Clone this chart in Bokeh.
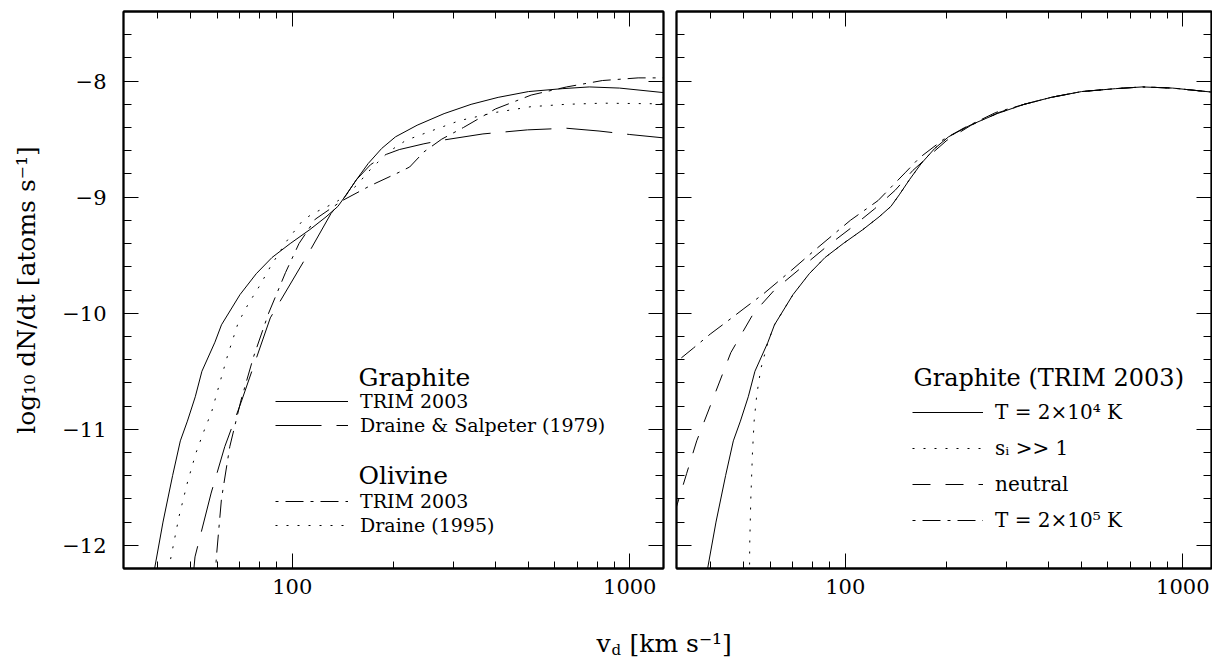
from bokeh.plotting import figure
from bokeh.models import (Range1d, FixedTicker, LogAxis, LinearAxis, CustomJSTickFormatter,
                          Legend, LegendItem, Label)
from bokeh.core.properties import value
from bokeh.layouts import column, row
from bokeh.embed import file_html
from bokeh.resources import INLINE

# ---------------- data (v_d in km/s, log10 dN/dt) ----------------
# Graphite, TRIM 2003 (left panel solid; right panel T = 2x10^4 K)
v_gr_trim = [37.5, 39.1, 41.4, 44.2, 46.6, 48.9, 51.6, 54.0, 59.0, 61.7, 70.0, 78.2, 87.1, 98.6,
             112.7, 125.9, 136.5, 144.5, 154.9, 167.9, 184.1, 202.3, 234.4, 281.8, 338.8, 407.4,
             501.2, 631.0, 758.6, 933.3, 1270]
lg_gr_trim = [-12.45, -12.2, -11.8, -11.4, -11.1, -10.93, -10.72, -10.50, -10.25, -10.10, -9.84,
              -9.66, -9.52, -9.40, -9.28, -9.17, -9.08, -8.98, -8.85, -8.71, -8.58, -8.48, -8.38,
              -8.28, -8.20, -8.14, -8.09, -8.065, -8.05, -8.06, -8.10]

# Graphite, Draine & Salpeter (1979)
v_gr_ds79 = [50.4, 51.5, 57.5, 63.1, 70.5, 86.1, 111.4, 130.3, 142.9, 154.9, 170.6, 190.5, 207.5,
             245.5, 277.3, 367.3, 497.7, 650.1, 810.9, 1000, 1270]
lg_gr_ds79 = [-12.4, -12.1, -11.55, -11.15, -10.77, -10.04, -9.49, -9.14, -9.0, -8.85, -8.72,
              -8.63, -8.59, -8.54, -8.51, -8.455, -8.42, -8.406, -8.43, -8.46, -8.49]

# Olivine, TRIM 2003
v_ol_trim = [58.6, 59.6, 61.7, 65.3, 70.5, 76.7, 85.1, 95.5, 104.7, 117.0, 140.6, 170.6, 207.5,
             222.8, 245.5, 277.3, 321.4, 399.9, 510.5, 650.1, 829.8, 1059, 1270]
lg_ol_trim = [-12.45, -12.1, -11.6, -11.15, -10.75, -10.38, -10.0, -9.65, -9.40, -9.19, -9.03,
              -8.90, -8.785, -8.74, -8.61, -8.50, -8.40, -8.24, -8.12, -8.05, -7.995, -7.972, -7.972]

# Olivine, Draine (1995)
v_ol_d95 = [42.2, 43.6, 46.2, 49.0, 51.9, 55.0, 57.7, 61.0, 64.4, 69.2, 74.1, 80.2, 86.1, 96.2,
            107.4, 115.3, 127.1, 136.8, 144.5, 154.9, 170.6, 192.8, 217.3, 257.6, 313.3, 399.9,
            510.5, 645.7, 831.8, 1270]
lg_ol_d95 = [-12.4, -12.12, -11.75, -11.45, -11.20, -11.00, -10.85, -10.60, -10.36, -10.08, -9.92,
             -9.76, -9.60, -9.38, -9.20, -9.14, -9.08, -9.03, -8.98, -8.90, -8.76, -8.61, -8.51,
             -8.43, -8.34, -8.27, -8.22, -8.20, -8.19, -8.196]

# Graphite (TRIM 2003), s_i >> 1
v_si = [52.0, 52.1, 52.5, 53.1, 53.7, 54.7, 56.2, 59.0, 61.7, 70.0, 78.2, 87.1, 98.6, 112.7,
        125.9, 136.5, 144.5, 154.9, 167.9, 184.1, 202.3, 234.4, 281.8, 338.8, 407.4, 501.2,
        631.0, 758.6, 933.3, 1270]
lg_si = [-12.45, -12.0, -11.6, -11.2, -10.93, -10.70, -10.48, -10.25, -10.10, -9.84, -9.66,
         -9.52, -9.40, -9.28, -9.17, -9.08, -8.98, -8.85, -8.71, -8.58, -8.48, -8.38, -8.28,
         -8.20, -8.14, -8.09, -8.065, -8.05, -8.06, -8.10]

# Graphite (TRIM 2003), neutral
v_neutral = [31.0, 33.9, 36.3, 39.8, 45.8, 53.5, 61.7, 74.6, 87.7, 103.5, 122.2, 140.6, 158.5,
             177.8, 200.0, 236.0, 285.1, 338.8, 407.4, 501.2, 631.0, 758.6, 933.3, 1270]
lg_neutral = [-11.75, -11.38, -11.10, -10.80, -10.34, -10.0, -9.8, -9.60, -9.43, -9.27, -9.10,
              -8.94, -8.77, -8.64, -8.51, -8.38, -8.27, -8.20, -8.14, -8.09, -8.065, -8.05,
              -8.06, -8.10]

# Graphite (TRIM 2003), T = 2x10^5 K
v_t2e5 = [31.0, 35.5, 39.8, 44.7, 50.1, 57.4, 69.3, 81.7, 103.5, 125.0, 151.0, 166.0, 195.9,
          225.9, 279.3, 338.8, 407.4, 501.2, 631.0, 758.6, 933.3, 1270]
lg_t2e5 = [-10.44, -10.30, -10.18, -10.07, -9.96, -9.83, -9.63, -9.45, -9.20, -9.03, -8.785,
           -8.66, -8.50, -8.40, -8.27, -8.20, -8.14, -8.09, -8.065, -8.05, -8.06, -8.10]

x_major = [100, 1000]
x_minor = [40, 50, 60, 70, 80, 90, 200, 300, 400, 500, 600, 700, 800, 900]
y_major = [-12, -11, -10, -9, -8]
y_minor = [-11.8, -11.6, -11.4, -11.2, -10.8, -10.6, -10.4, -10.2, -9.8, -9.6, -9.4, -9.2,
           -8.8, -8.6, -8.4, -8.2, -7.8, -7.6]

# ---------------- styling ----------------
FONT = "DejaVu Serif"
XMIN = 10 ** 1.5
YMIN, YMAX = -12.2, -7.4
DS79_DASH = "46 15"
NEUTRAL_DASH = "18 15"
DASHDOT = "3 7 18 7"
DOT = "2 9"

NUM_FMT = CustomJSTickFormatter(code="return tick.toFixed(0);")
Y_FMT = CustomJSTickFormatter(code="return (tick < 0 ? '\\u2212' : '') + Math.abs(tick).toFixed(0);")


def blank_fmt():
    return CustomJSTickFormatter(code="return '';")


def style_axis(ax, labelled, minor_len):
    ax.major_tick_in = 15
    ax.major_tick_out = 0
    ax.minor_tick_in = minor_len
    ax.minor_tick_out = 0
    ax.axis_line_width = 1.8
    ax.axis_line_color = "black"
    ax.major_tick_line_color = "black"
    ax.minor_tick_line_color = "black"
    ax.major_tick_line_width = 1
    ax.minor_tick_line_width = 1
    ax.major_label_text_font = FONT
    ax.major_label_text_font_size = "21px"
    ax.major_label_text_color = "black"
    if not labelled:
        ax.major_label_standoff = 0


def make_panel(width, xmax, bl, br, ylabels):
    p = figure(width=width, height=608, x_axis_type="log",
               x_range=Range1d(XMIN, xmax), y_range=Range1d(YMIN, YMAX),
               output_backend="svg", toolbar_location=None,
               x_axis_location=None, y_axis_location=None,
               min_border_left=bl, min_border_right=br, min_border_top=11, min_border_bottom=40)
    p.xgrid.visible = False
    p.ygrid.visible = False
    p.outline_line_color = "black"
    p.outline_line_width = 1.8
    p.background_fill_color = "white"
    p.border_fill_color = "white"

    xt = FixedTicker(ticks=x_major, minor_ticks=x_minor)
    yt = FixedTicker(ticks=y_major, minor_ticks=y_minor)

    xb = LogAxis(ticker=xt, formatter=NUM_FMT)
    style_axis(xb, True, 7)
    xb.major_label_standoff = 10
    p.add_layout(xb, "below")

    xa = LogAxis(ticker=xt, formatter=blank_fmt())
    style_axis(xa, False, 7)
    p.add_layout(xa, "above")

    yl = LinearAxis(ticker=yt, formatter=Y_FMT if ylabels else blank_fmt())
    style_axis(yl, ylabels, 8)
    if ylabels:
        yl.major_label_standoff = 17
        yl.axis_label = "log\u2081\u2080 dN/dt [atoms s\u207b\u00b9]"
        yl.axis_label_text_font = FONT
        yl.axis_label_text_font_size = "25px"
        yl.axis_label_text_font_style = "normal"
        yl.axis_label_text_color = "black"
        yl.axis_label_standoff = 18
    p.add_layout(yl, "left")

    yr = LinearAxis(ticker=yt, formatter=blank_fmt())
    style_axis(yr, False, 8)
    p.add_layout(yr, "right")
    return p


def legend(items, loc, gw, rowh, size):
    return Legend(items=items, location=loc, orientation="vertical",
                  glyph_width=gw, glyph_height=rowh, label_height=rowh, spacing=0,
                  padding=0, margin=0, label_standoff=12,
                  border_line_alpha=0, background_fill_alpha=0,
                  label_text_font=FONT, label_text_font_size=size,
                  label_text_color="black")


def title_label(text, x, y, size):
    return Label(x=x, y=y, x_units="screen", y_units="screen", text=text,
                 text_font=FONT, text_font_size=size, text_color="black",
                 text_align="left", text_baseline="alphabetic")


# ---------------- left panel ----------------
p1 = make_panel(669, 10 ** 3.1, 123, 6, True)
r_gt = p1.line(v_gr_trim, lg_gr_trim, line_color="black", line_width=1)
r_ds = p1.line(v_gr_ds79, lg_gr_ds79, line_color="black", line_width=1, line_dash=DS79_DASH)
r_ot = p1.line(v_ol_trim, lg_ol_trim, line_color="black", line_width=1, line_dash=DASHDOT)
r_od = p1.line(v_ol_d95, lg_ol_d95, line_color="black", line_width=1, line_dash=DOT)

p1.add_layout(legend([LegendItem(label=value("TRIM 2003"), renderers=[r_gt]),
                      LegendItem(label=value("Draine & Salpeter (1979)"), renderers=[r_ds])],
                     (152, 131), 73, 24, "19px"))
p1.add_layout(legend([LegendItem(label=value("TRIM 2003"), renderers=[r_ot]),
                      LegendItem(label=value("Draine (1995)"), renderers=[r_od])],
                     (152, 31), 73, 24, "19px"))
p1.add_layout(title_label("Graphite", 235, 191, "25px"))
p1.add_layout(title_label("Olivine", 235, 93, "25px"))

# ---------------- right panel ----------------
p2 = make_panel(543, 10 ** 3.085, 7, 1, False)
q_t4 = p2.line(v_gr_trim, lg_gr_trim, line_color="black", line_width=1)
q_si = p2.line(v_si, lg_si, line_color="black", line_width=1, line_dash=DOT)
q_ne = p2.line(v_neutral, lg_neutral, line_color="black", line_width=1, line_dash=NEUTRAL_DASH)
q_t5 = p2.line(v_t2e5, lg_t2e5, line_color="black", line_width=1, line_dash=DASHDOT)

p2.add_layout(legend([LegendItem(label=value("T = 2\u00d710\u2074 K"), renderers=[q_t4]),
                      LegendItem(label=value("s\u1d62 >> 1"), renderers=[q_si]),
                      LegendItem(label=value("neutral"), renderers=[q_ne]),
                      LegendItem(label=value("T = 2\u00d710\u2075 K"), renderers=[q_t5])],
                     (236, 30), 71, 36, "20px"))
p2.add_layout(title_label("Graphite (TRIM 2003)", 237, 191, "24px"))

# ---------------- shared x-axis title ----------------
p3 = figure(width=1212, height=50, x_range=Range1d(0, 1), y_range=Range1d(0, 1),
            output_backend="svg", toolbar_location=None,
            x_axis_location=None, y_axis_location=None, min_border=0)
p3.xgrid.visible = False
p3.ygrid.visible = False
p3.outline_line_color = None
p3.add_layout(Label(x=596, y=15, x_units="screen", y_units="screen", text="v",
                    text_font=FONT, text_font_size="25px", text_color="black",
                    text_baseline="alphabetic"))
p3.add_layout(Label(x=611, y=9, x_units="screen", y_units="screen", text="d",
                    text_font=FONT, text_font_size="15px", text_color="black",
                    text_baseline="alphabetic"))
p3.add_layout(Label(x=629, y=15, x_units="screen", y_units="screen", text="[km s\u207b\u00b9]",
                    text_font=FONT, text_font_size="25px", text_color="black",
                    text_baseline="alphabetic"))

layout = column(row(p1, p2, spacing=0), p3, spacing=0)
open("out.html", "w").write(file_html(layout, INLINE))
